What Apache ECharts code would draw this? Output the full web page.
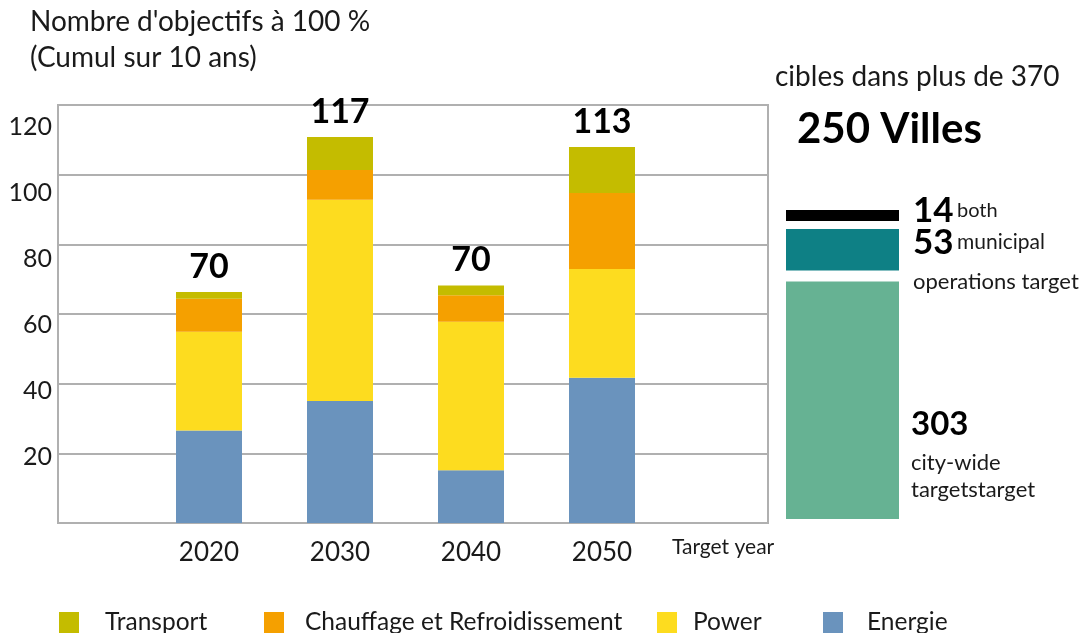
<!DOCTYPE html>
<html>
<head>
<meta charset="utf-8">
<script src="https://cdn.jsdelivr.net/npm/echarts@6/dist/echarts.min.js"></script>
<style>
  html, body { margin: 0; padding: 0; background: #fff; }
  #chart { width: 1086px; height: 633px; }
</style>
</head>
<body>
<div id="chart"></div>
<script>
const years = ["2020", "2030", "2040", "2050"];
const energie = [28, 37, 16, 44];
const power = [30, 61, 45, 33];
const chauffage = [10, 9, 8, 23];
const transport = [2, 10, 3, 14];
const totals = [70, 117, 70, 113];
const yTicks = [20, 40, 60, 80, 100, 120];

// right panel: cities with targets
const cityNames = ["city-wide", "municipal", "both"];
const cityCounts = [303, 53, 14];
const cityColors = ["#66b293", "#0e8085", "#000000"];
const cityGaps = [0, 11, 8]; // px gap under each block

const FONT = "Lato";
const yMax = 126.7;

const chart = echarts.init(document.getElementById("chart"));

function barSeries(name, data, color) {
  return {
    name: name,
    type: "bar",
    stack: "total",
    barWidth: 66,
    xAxisIndex: 1,
    yAxisIndex: 2,
    itemStyle: { color: color },
    data: data,
  };
}

let acc = 0;
const cityData = cityCounts.map((v) => {
  const item = [0, acc, v];
  acc += v;
  return item;
});

const option = {
  animation: false,
  textStyle: { fontFamily: FONT },
  grid: [
    // outer box with gridlines and y labels
    { left: 58, right: 318, top: 105, bottom: 110, show: true, borderColor: "#b0b0b0", borderWidth: 2 },
    // bars
    { left: 143.5, right: 418.5, top: 105, bottom: 110 },
    // right panel
    { left: 786, width: 113, top: 210, bottom: 114 },
  ],
  xAxis: [
    { type: "category", gridIndex: 0, data: [""], show: false },
    {
      type: "category",
      gridIndex: 1,
      data: years,
      axisLine: { show: false },
      axisTick: { show: false },
      axisLabel: { fontSize: 26, color: "#1a1a1a", margin: 17, fontFamily: FONT },
    },
    { type: "category", gridIndex: 2, data: [""], show: false },
  ],
  yAxis: [
    {
      type: "value",
      gridIndex: 0,
      min: 0,
      max: yMax,
      interval: 20,
      axisLine: { show: false },
      axisTick: { show: false },
      splitLine: { show: false },
      axisLabel: {
        fontSize: 25,
        color: "#1a1a1a",
        margin: 6,
        fontFamily: FONT,
        formatter: (v) => (yTicks.includes(v) ? String(v) : ""),
      },
    },
    {
      type: "value",
      gridIndex: 0,
      min: 0,
      max: yMax,
      interval: yMax / 6,
      axisLine: { show: false },
      axisTick: { show: false },
      axisLabel: { show: false },
      splitLine: { show: true, lineStyle: { color: "#b0b0b0", width: 2 } },
    },
    { type: "value", gridIndex: 1, min: 0, max: yMax, show: false, splitLine: { show: false } },
    { type: "value", gridIndex: 2, min: 0, max: 394.3, show: false },
  ],
  legend: [
    { name: "Transport", left: 59, gap: 21 },
    { name: "Chauffage et Refroidissement", left: 264, gap: 16 },
    { name: "Power", left: 657, gap: 11 },
    { name: "Energie", left: 823, gap: 19 },
  ].map((l) => ({
    data: [l.name],
    left: l.left,
    top: 610,
    padding: 0,
    itemWidth: 20,
    itemHeight: 21,
    icon: "rect",
    selectedMode: false,
    textStyle: { fontSize: 24.5, color: "#1a1a1a", fontFamily: FONT, padding: [0, 0, 0, l.gap] },
  })),
  series: [
    barSeries("Energie", energie, "#6a93bd"),
    barSeries("Power", power, "#fddc1f"),
    barSeries("Chauffage et Refroidissement", chauffage, "#f5a000"),
    Object.assign(barSeries("Transport", transport, "#c4bc00"), {
      label: {
        show: true,
        position: "top",
        distance: 8,
        fontSize: 34,
        fontWeight: "bold",
        color: "#000",
        fontFamily: FONT,
        formatter: (p) => String(totals[p.dataIndex]),
      },
    }),
    {
      type: "custom",
      xAxisIndex: 2,
      yAxisIndex: 3,
      encode: { x: 0, y: [1, 2] },
      data: cityData,
      renderItem: function (params, api) {
        const i = params.dataIndex;
        const cs = params.coordSys;
        const base = api.value(1);
        const val = api.value(2);
        let shift = 0;
        for (let k = 0; k <= i; k++) shift += cityGaps[k];
        const yb = api.coord([0, base])[1] - shift;
        const yt = api.coord([0, base + val])[1] - shift;
        return {
          type: "rect",
          shape: { x: cs.x, y: yt, width: cs.width, height: yb - yt },
          style: { fill: cityColors[i] },
        };
      },
    },
  ],
  graphic: [
    { type: "text", left: 30, top: 8, style: { text: "Nombre d'objectifs à 100 %", font: "28px " + FONT, fill: "#1a1a1a" } },
    { type: "text", left: 30, top: 44, style: { text: "(Cumul sur 10 ans)", font: "28px " + FONT, fill: "#1a1a1a" } },
    { type: "text", left: 775, top: 63, style: { text: "cibles dans plus de 370", font: "28px " + FONT, fill: "#1a1a1a" } },
    { type: "text", left: 797, top: 108, style: { text: "250 Villes", font: "bold 42px " + FONT, fill: "#000" } },
    { type: "text", left: 672, top: 537, style: { text: "Target year", font: "21px " + FONT, fill: "#1a1a1a" } },
    {
      type: "text", left: 913, top: 193,
      style: {
        text: "{b|" + cityCounts[2] + "} {n|" + cityNames[2] + "}",
        rich: { b: { font: "bold 35px " + FONT, fill: "#000" }, n: { font: "20px " + FONT, fill: "#1a1a1a" } },
      },
    },
    {
      type: "text", left: 913, top: 225,
      style: {
        text: "{b|" + cityCounts[1] + "} {n|" + cityNames[1] + "}",
        rich: { b: { font: "bold 35px " + FONT, fill: "#000" }, n: { font: "21px " + FONT, fill: "#1a1a1a" } },
      },
    },
    { type: "text", left: 913, top: 271, style: { text: "operations target", font: "22px " + FONT, fill: "#1a1a1a" } },
    { type: "text", left: 911, top: 408, style: { text: String(cityCounts[0]), font: "bold 33px " + FONT, fill: "#000" } },
    { type: "text", left: 911, top: 452, style: { text: cityNames[0], font: "22px " + FONT, fill: "#1a1a1a" } },
    { type: "text", left: 911, top: 479, style: { text: "targetstarget", font: "22px " + FONT, fill: "#1a1a1a" } },
  ],
};

chart.setOption(option);
</script>
</body>
</html>
